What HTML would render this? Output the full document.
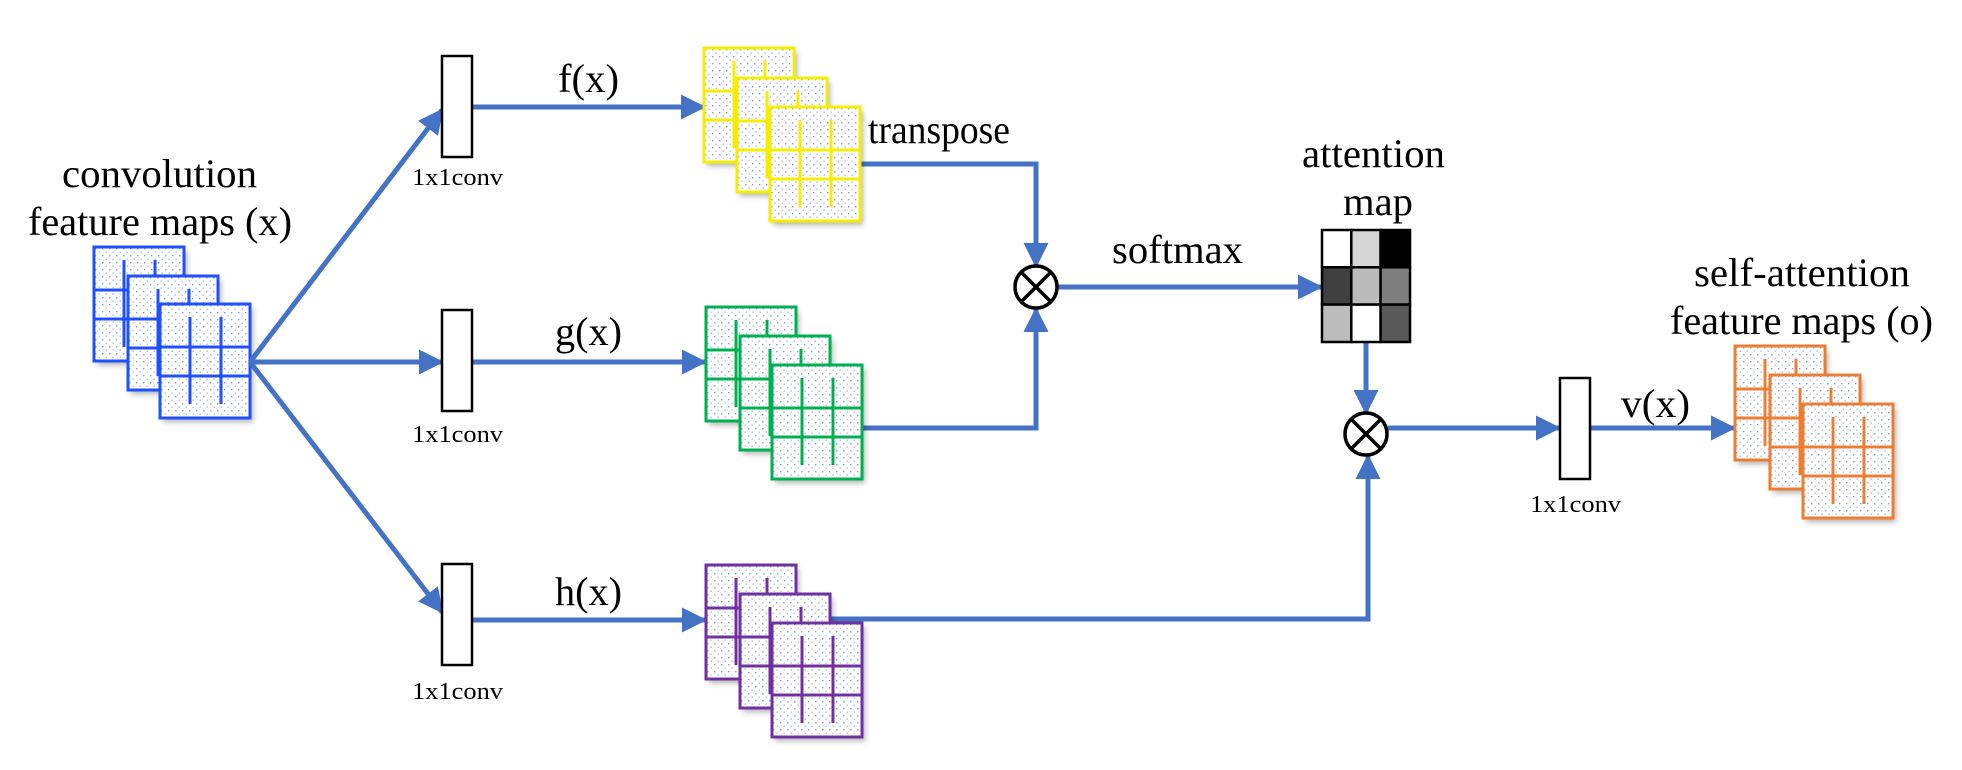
<!DOCTYPE html>
<html><head><meta charset="utf-8"><style>html,body{margin:0;padding:0;background:#fff}svg{display:block}text{font-family:"Liberation Serif",serif}</style></head><body>
<svg width="1962" height="770" viewBox="0 0 1962 770" xmlns="http://www.w3.org/2000/svg">
<defs>
<pattern id="dots" width="7" height="7" patternUnits="userSpaceOnUse">
<rect x="1" y="1" width="1.4" height="1.4" fill="#7d9be0"/>
<rect x="4.5" y="4.5" width="1.4" height="1.4" fill="#a9bde9"/>
</pattern>
<filter id="sh" x="-10%" y="-10%" width="130%" height="130%"><feDropShadow dx="3" dy="4" stdDeviation="3" flood-color="#000" flood-opacity="0.3"/></filter>
<g id="card">
<rect x="0" y="0" width="90" height="114" fill="#fff" filter="url(#sh)"/>
<rect x="0" y="0" width="90" height="114" fill="url(#dots)" stroke="currentColor" stroke-width="3"/>
<line x1="0" y1="43" x2="90" y2="43" stroke="currentColor" stroke-width="3"/>
<line x1="0" y1="72" x2="90" y2="72" stroke="currentColor" stroke-width="3"/>
<line x1="30" y1="13" x2="30" y2="100" stroke="currentColor" stroke-width="3"/>
<line x1="61" y1="13" x2="61" y2="100" stroke="currentColor" stroke-width="3"/>
</g>
<marker id="ah" markerWidth="5" markerHeight="5" refX="4.6" refY="2.5" orient="auto" markerUnits="strokeWidth" viewBox="0 0 5 5">
<path d="M0,0 L5,2.5 L0,5 Z" fill="#4472C4"/>
</marker>
</defs>

<g color="#1f4fff">
<use href="#card" x="94" y="247"/>
<use href="#card" x="128" y="276"/>
<use href="#card" x="160" y="304"/>
</g>
<g font-size="40" lengthAdjust="spacingAndGlyphs">
<text x="62" y="187" textLength="195" lengthAdjust="spacingAndGlyphs">convolution</text>
<text x="28" y="235" textLength="264" lengthAdjust="spacingAndGlyphs">feature maps (x)</text>
</g>

<g stroke="#4472C4" stroke-width="5" fill="none">
<line x1="250" y1="362" x2="442" y2="110" marker-end="url(#ah)"/>
<line x1="250" y1="362" x2="442" y2="362" marker-end="url(#ah)"/>
<line x1="250" y1="362" x2="442" y2="612" marker-end="url(#ah)"/>
<line x1="472" y1="107" x2="704" y2="107" marker-end="url(#ah)"/>
<line x1="472" y1="362" x2="705" y2="362" marker-end="url(#ah)"/>
<line x1="472" y1="620" x2="705" y2="620" marker-end="url(#ah)"/>
<polyline points="860,164 1036,164 1036,266" marker-end="url(#ah)"/>
<polyline points="862,428 1036,428 1036,309" marker-end="url(#ah)"/>
<line x1="1058" y1="287" x2="1321" y2="287" marker-end="url(#ah)"/>
<line x1="1366" y1="342" x2="1366" y2="413" marker-end="url(#ah)"/>
<polyline points="830,619 1368,619 1368,456" marker-end="url(#ah)"/>
<line x1="1388" y1="428" x2="1559" y2="428" marker-end="url(#ah)"/>
<line x1="1590" y1="428" x2="1734" y2="428" marker-end="url(#ah)"/>
</g>

<g fill="#fff" stroke="#000" stroke-width="2.5">
<rect x="442" y="56" width="30" height="101"/>
<rect x="442" y="310" width="30" height="101"/>
<rect x="442" y="564" width="30" height="101"/>
<rect x="1560" y="378" width="30" height="101"/>
</g>
<g font-size="24">
<text x="412" y="185" textLength="91" lengthAdjust="spacingAndGlyphs">1x1conv</text>
<text x="412" y="442" textLength="91" lengthAdjust="spacingAndGlyphs">1x1conv</text>
<text x="412" y="699" textLength="91" lengthAdjust="spacingAndGlyphs">1x1conv</text>
<text x="1530" y="512" textLength="91" lengthAdjust="spacingAndGlyphs">1x1conv</text>
</g>

<g font-size="40">
<text x="558" y="92" textLength="61" lengthAdjust="spacingAndGlyphs">f(x)</text>
<text x="555" y="345" textLength="67" lengthAdjust="spacingAndGlyphs">g(x)</text>
<text x="555" y="605" textLength="67" lengthAdjust="spacingAndGlyphs">h(x)</text>
<text x="868" y="143" textLength="142" lengthAdjust="spacingAndGlyphs">transpose</text>
<text x="1112" y="263" textLength="131" lengthAdjust="spacingAndGlyphs">softmax</text>
<text x="1302" y="167" textLength="143" lengthAdjust="spacingAndGlyphs">attention</text>
<text x="1343" y="215" textLength="70" lengthAdjust="spacingAndGlyphs">map</text>
<text x="1621" y="417" textLength="69" lengthAdjust="spacingAndGlyphs">v(x)</text>
<text x="1694" y="286" textLength="216" lengthAdjust="spacingAndGlyphs">self-attention</text>
<text x="1670" y="334" textLength="263" lengthAdjust="spacingAndGlyphs">feature maps (o)</text>
</g>

<g color="#f5ee00">
<use href="#card" x="704" y="48"/>
<use href="#card" x="737" y="78"/>
<use href="#card" x="770" y="107"/>
</g>
<g color="#00b050">
<use href="#card" x="706" y="307"/>
<use href="#card" x="740" y="336"/>
<use href="#card" x="772" y="365"/>
</g>
<g color="#7030a0">
<use href="#card" x="706" y="565"/>
<use href="#card" x="740" y="594"/>
<use href="#card" x="772" y="623"/>
</g>
<g color="#ed7d31">
<use href="#card" x="1735" y="346"/>
<use href="#card" x="1770" y="375"/>
<use href="#card" x="1803" y="404"/>
</g>

<g fill="#fff" stroke="#000" stroke-width="3.5">
<circle cx="1036" cy="287" r="21"/>
<line x1="1021" y1="272" x2="1051" y2="302"/>
<line x1="1051" y1="272" x2="1021" y2="302"/>
<circle cx="1366" cy="434" r="21"/>
<line x1="1351" y1="419" x2="1381" y2="449"/>
<line x1="1381" y1="419" x2="1351" y2="449"/>
</g>

<g stroke="#000" stroke-width="2.5">
<rect x="1322" y="230" width="29.3" height="37.3" fill="#fff"/>
<rect x="1351.3" y="230" width="29.3" height="37.3" fill="#d6d6d6"/>
<rect x="1380.6" y="230" width="29.4" height="37.3" fill="#000"/>
<rect x="1322" y="267.3" width="29.3" height="37.3" fill="#404040"/>
<rect x="1351.3" y="267.3" width="29.3" height="37.3" fill="#bbbbbb"/>
<rect x="1380.6" y="267.3" width="29.4" height="37.3" fill="#7f7f7f"/>
<rect x="1322" y="304.6" width="29.3" height="37.4" fill="#bcbcbc"/>
<rect x="1351.3" y="304.6" width="29.3" height="37.4" fill="#fff"/>
<rect x="1380.6" y="304.6" width="29.4" height="37.4" fill="#595959"/>
</g>
</svg>
</body></html>
